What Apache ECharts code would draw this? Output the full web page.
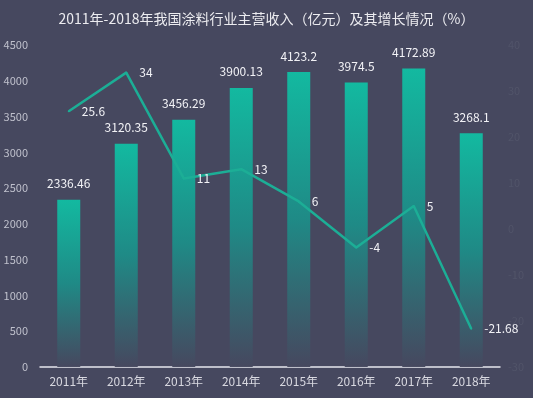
<!DOCTYPE html>
<html>
<head>
<meta charset="utf-8">
<script src="https://cdn.jsdelivr.net/npm/echarts@6/dist/echarts.min.js"></script>
<style>
  html, body { margin: 0; padding: 0; background: #46485f; }
  #chart { width: 533px; height: 398px; }
</style>
</head>
<body>
<div id="chart"></div>
<script>
// 数据
var years = ['2011年', '2012年', '2013年', '2014年', '2015年', '2016年', '2017年', '2018年']
var revenue = [2336.46, 3120.35, 3456.29, 3900.13, 4123.2, 3974.5, 4172.89, 3268.1]
var growth = [25.6, 34, 11, 13, 6, -4, 5, -21.68]

var myChart = echarts.init(document.getElementById('chart'))
myChart.setOption({
    backgroundColor: '#46485f',
    textStyle: { fontFamily: 'Noto Sans CJK SC, sans-serif' },
    title: {
        text: '2011年-2018年我国涂料行业主营收入（亿元）及其增长情况（%）',
        left: 'center',
        top: 7,
        textStyle: { color: '#ececf0', fontSize: 14, fontWeight: 'normal' }
    },
    grid: { left: 40, right: 33, top: 45, bottom: 31 },
    xAxis: {
        type: 'category',
        data: years,
        axisLine: { lineStyle: { color: '#e6e6ee', width: 1.5 } },
        axisTick: { show: false },
        axisLabel: { color: '#d8d8e0', fontSize: 12, margin: 8 }
    },
    yAxis: [
        {
            type: 'value',
            min: 0,
            max: 4500,
            interval: 500,
            splitLine: { show: false },
            axisLine: { show: false },
            axisTick: { show: false },
            axisLabel: { color: '#bfc0cc', fontSize: 11, margin: 12, formatter: function (v) { return String(v) } }
        },
        {
            type: 'value',
            min: -30,
            max: 40,
            interval: 10,
            splitLine: { show: false },
            axisLine: { show: false },
            axisTick: { show: false },
            axisLabel: { color: '#515469', fontSize: 11, margin: 8 }
        }
    ],
    series: [
        {
            type: 'bar',
            data: revenue,
            barWidth: 23,
            itemStyle: {
                color: new echarts.graphic.LinearGradient(0, 0, 0, 1, [
                    { offset: 0, color: '#13b9a0' },
                    { offset: 0.5, color: '#1f8a86' },
                    { offset: 1, color: 'rgba(70,72,95,0.95)' }
                ])
            },
            label: {
                show: true,
                position: 'top',
                distance: 10,
                color: '#f2f2f6',
                fontSize: 12
            }
        },
        {
            type: 'line',
            yAxisIndex: 1,
            data: growth,
            symbol: 'circle',
            symbolSize: 2,
            showSymbol: true,
            itemStyle: { color: '#1cae96' },
            lineStyle: { color: '#1cae96', width: 2.5 },
            label: {
                show: true,
                position: 'right',
                distance: 12,
                color: '#f2f2f6',
                fontSize: 12
            },
            labelLayout: { hideOverlap: false },
            z: 5
        }
    ]
})
window.onresize = myChart.resize
</script>
</body>
</html>
